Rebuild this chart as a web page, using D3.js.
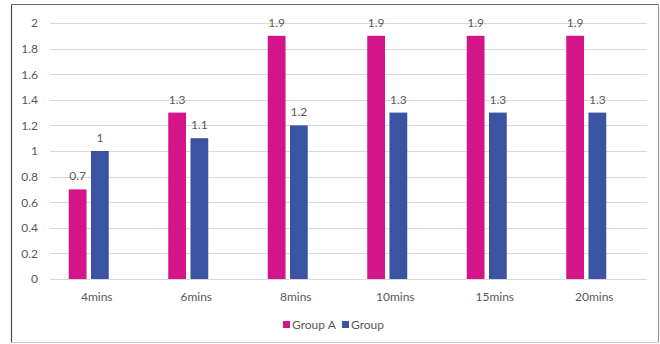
<!DOCTYPE html>
<html>
<head>
<meta charset="utf-8">
<script src="https://cdn.jsdelivr.net/npm/d3@7"></script>
<style>
  html, body { margin: 0; padding: 0; background: #fff; }
  svg { display: block; }
  text { font-family: Lato, "Open Sans", sans-serif; fill: #595959; }
</style>
</head>
<body>
<svg id="chart" width="660" height="344"></svg>
<script>
// Chart data
const categories = ["4mins", "6mins", "8mins", "10mins", "15mins", "20mins"];
const seriesNames = ["Group A", "Group"];
const groupA = [0.7, 1.3, 1.9, 1.9, 1.9, 1.9];
const groupB = [1, 1.1, 1.2, 1.3, 1.3, 1.3];
const yTicks = [0, 0.2, 0.4, 0.6, 0.8, 1, 1.2, 1.4, 1.6, 1.8, 2];
const colors = ["#d4158a", "#3a53a3"];

const series = [groupA, groupB];

const svg = d3.select("#chart");

// Outer frame: each edge drawn separately
const frame = { l: 11.5, t: 4.5, r: 658.5, b: 342.5 };
const edges = [
  [frame.l, frame.t, frame.r, frame.t, "#6b6b6b"],
  [frame.l, frame.t, frame.l, frame.b, "#4d4d4d"],
  [frame.r, frame.t, frame.r, frame.b, "#9a9a9a"],
  [frame.l, frame.b, frame.r, frame.b, "#cfcfcf"]
];
svg.append("g").selectAll("line").data(edges).join("line")
  .attr("x1", d => d[0]).attr("y1", d => d[1])
  .attr("x2", d => d[2]).attr("y2", d => d[3])
  .attr("stroke", d => d[4]).attr("stroke-width", 1.2);

const plot = { left: 50, right: 647, top: 23, bottom: 279 };

const y = d3.scaleLinear().domain([0, 2]).range([plot.bottom, plot.top]);
const x = d3.scaleBand().domain(categories).range([39, 636]).paddingInner(0).paddingOuter(0);
const xs = d3.scaleBand().domain(seriesNames).range([-20, 20]).paddingInner(0.2);

// Horizontal gridlines
svg.append("g")
  .selectAll("line")
  .data(yTicks)
  .join("line")
  .attr("x1", plot.left).attr("x2", plot.right)
  .attr("y1", d => Math.round(y(d)) + 0.5).attr("y2", d => Math.round(y(d)) + 0.5)
  .attr("stroke", "#d9d9d9").attr("stroke-width", 1);

// Y axis labels
const yAxis = d3.axisLeft(y).tickValues(yTicks).tickSize(0).tickPadding(0).tickFormat(d3.format("~g"));
const gy = svg.append("g").attr("transform", `translate(${38},0)`).call(yAxis);
gy.select(".domain").remove();
gy.selectAll("text").style("font-size", "12px").attr("fill", "#595959")
  .style("font-family", "Lato, 'Open Sans', sans-serif");

// Bars with value labels
const groups = svg.append("g")
  .selectAll("g")
  .data(categories)
  .join("g")
  .attr("transform", d => `translate(${x(d) + x.bandwidth() / 2},0)`);

groups.each(function (cat, i) {
  const g = d3.select(this);
  seriesNames.forEach((name, s) => {
    const v = series[s][i];
    g.append("rect")
      .attr("x", xs(name))
      .attr("y", y(v))
      .attr("width", xs.bandwidth())
      .attr("height", y(0) - y(v))
      .attr("fill", colors[s]);
    g.append("text")
      .attr("x", xs(name) + xs.bandwidth() / 2)
      .attr("y", y(v) - 9)
      .attr("text-anchor", "middle")
      .style("font-size", "12px")
      .text(d3.format("~g")(v));
  });
});

// Category labels
svg.append("g")
  .selectAll("text")
  .data(categories)
  .join("text")
  .attr("x", d => x(d) + x.bandwidth() / 2 + 8)
  .attr("y", 301)
  .attr("text-anchor", "middle")
  .style("font-size", "12px")
  .text(d => d);

// Legend
const legend = svg.append("g").attr("transform", "translate(283,325)");
const legendX = [0, 59];
seriesNames.forEach((name, s) => {
  const lg = legend.append("g").attr("transform", `translate(${legendX[s]},0)`);
  lg.append("rect").attr("x", 0).attr("y", -4).attr("width", 7).attr("height", 7).attr("fill", colors[s]);
  lg.append("text").attr("x", 9).attr("y", 4).style("font-size", "12px").text(name);
});
</script>
</body>
</html>
